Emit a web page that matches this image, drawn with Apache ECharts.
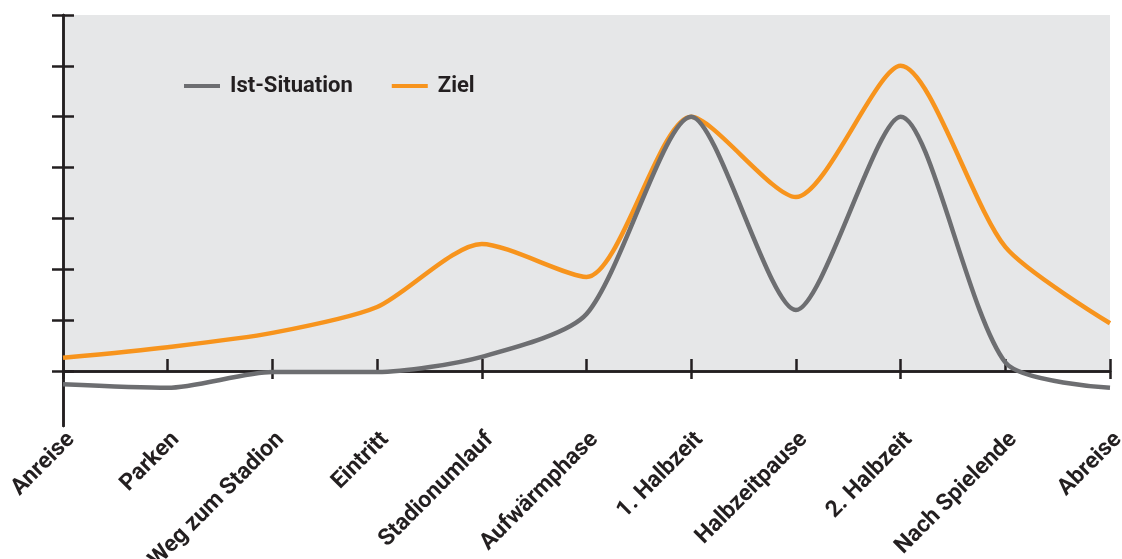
<!DOCTYPE html>
<html>
<head>
<meta charset="utf-8">
<script src="https://cdn.jsdelivr.net/npm/echarts@6/dist/echarts.min.js"></script>
<style>
html,body{margin:0;padding:0;background:#fff;}
#c{width:1122px;height:559px;}
</style>
</head>
<body>
<div id="c"></div>
<script>
const categories = ['Anreise','Parken','Weg zum Stadion','Eintritt','Stadionumlauf','Aufwärmphase','1. Halbzeit','Halbzeitpause','2. Halbzeit','Nach Spielende','Abreise'];
const istSituation = [-0.26, -0.33, -0.02, -0.02, 0.28, 1.12, 5.0, 1.2, 5.0, 0.17, -0.33];
const ziel = [0.26, 0.47, 0.75, 1.26, 2.5, 1.85, 5.0, 3.42, 6.0, 2.44, 0.94];
const yTicks = [0, 1, 2, 3, 4, 5, 6, 7];

const FONT = 'Roboto, "DejaVu Sans Condensed", sans-serif';
const AXIS = '#231f20';
const GREY = '#6d6e71';
const ORANGE = '#f7941d';

const chart = echarts.init(document.getElementById('c'), null, {renderer: 'canvas'});

const yBase = {
  type: 'value', min: -1.08, max: 7, position: 'left', z: 1,
  axisLine: {show: true, onZero: false, lineStyle: {color: AXIS, width: 2.5}},
  axisLabel: {show: false},
  splitLine: {show: false}
};
const xBase = {
  type: 'category', data: categories, boundaryGap: false, position: 'bottom', z: 1,
  axisLine: {show: true, onZero: true, lineStyle: {color: AXIS, width: 2.5}},
  splitLine: {show: false}
};

chart.setOption({
  animation: false,
  grid: {left: 63, right: 12, top: 15, bottom: 133, containLabel: false, outerBoundsMode: 'none'},
  legend: {
    left: 179, top: 70, itemWidth: 36, itemHeight: 4, itemGap: 39, icon: 'rect',
    data: [{name: 'Ist-Situation', itemStyle: {color: GREY}}, {name: 'Ziel', itemStyle: {color: ORANGE}}],
    textStyle: {fontFamily: FONT, fontWeight: 'bold', fontSize: 22, color: AXIS, padding: [0, 0, 0, 5]}
  },
  xAxis: [
    Object.assign({}, xBase, {
      axisTick: {show: true, inside: true, length: 12, alignWithLabel: true, lineStyle: {color: AXIS, width: 2.5}},
      axisLabel: {show: true, rotate: 45, margin: 2, verticalAlign: 'top', interval: 0, fontFamily: FONT, fontWeight: 'bold', fontSize: 23, color: AXIS}
    }),
    Object.assign({}, xBase, {
      axisTick: {show: true, inside: false, length: 8, lineStyle: {color: AXIS, width: 2.5}},
      axisLabel: {show: false}
    })
  ],
  yAxis: [
    Object.assign({}, yBase, {
      axisTick: {show: true, inside: true, length: 11, customValues: yTicks, lineStyle: {color: AXIS, width: 2.5}}
    }),
    Object.assign({}, yBase, {
      axisTick: {show: true, inside: false, length: 11, customValues: yTicks, lineStyle: {color: AXIS, width: 2.5}}
    })
  ],
  series: [
    {
      name: 'bg', type: 'line', data: [], z: 0, silent: true,
      markArea: {
        silent: true,
        itemStyle: {color: '#e6e7e8'},
        data: [[{xAxis: categories[0], yAxis: 0}, {xAxis: categories[categories.length - 1], yAxis: 7}]]
      }
    },
    {
      name: 'Ist-Situation', type: 'line', data: istSituation, smooth: 0.25, z: 3,
      showSymbol: false, lineStyle: {color: GREY, width: 4.5}, itemStyle: {color: GREY}
    },
    {
      name: 'Ziel', type: 'line', data: ziel, smooth: 0.25, z: 2,
      showSymbol: false, lineStyle: {color: ORANGE, width: 4.5}, itemStyle: {color: ORANGE}
    }
  ]
});
</script>
</body>
</html>
